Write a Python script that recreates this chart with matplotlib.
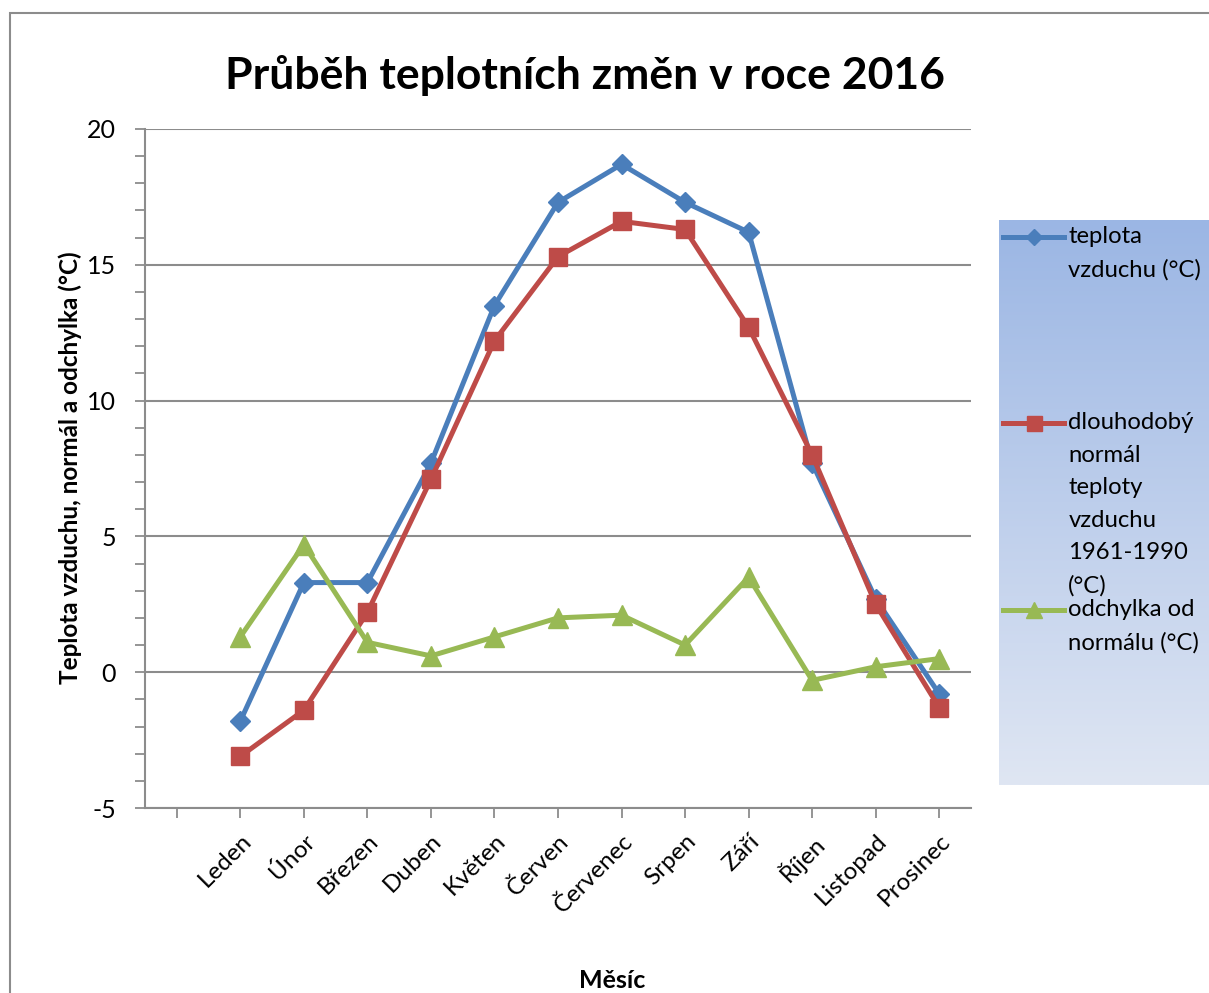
import numpy as np
import matplotlib
matplotlib.use("Agg")
import matplotlib.pyplot as plt
from matplotlib.patches import Rectangle
from matplotlib.lines import Line2D
from matplotlib.ticker import MultipleLocator

plt.rcParams['font.family'] = ['Lato', 'DejaVu Sans']
plt.rcParams['axes.unicode_minus'] = False

months = ["Leden", "Únor", "Březen", "Duben", "Květen", "Červen",
          "Červenec", "Srpen", "Září", "Říjen", "Listopad", "Prosinec"]
teplota = [-1.8, 3.3, 3.3, 7.7, 13.5, 17.3, 18.7, 17.3, 16.2, 7.7, 2.7, -0.8]
normal = [-3.1, -1.4, 2.2, 7.1, 12.2, 15.3, 16.6, 16.3, 12.7, 8.0, 2.5, -1.3]
odchylka = [1.3, 4.7, 1.1, 0.6, 1.3, 2.0, 2.1, 1.0, 3.5, -0.3, 0.2, 0.5]

series_names = ["teplota\nvzduchu (°C)",
                "dlouhodobý\nnormál\nteploty\nvzduchu\n1961-1990\n(°C)",
                "odchylka od\nnormálu (°C)"]
colors = ["#4A7EBB", "#BE4B48", "#98B954"]
markers = ["D", "s", "^"]
msizes = [10.5, 13.5, 14.5]

W, H = 1209, 993
fig = plt.figure(figsize=(W / 100, H / 100), dpi=100)

# chart border
fig.add_artist(Rectangle((10 / W, -0.1), 1.2, 1 - 13 / H + 0.1, transform=fig.transFigure,
                         fill=False, edgecolor="#8C8C8C", linewidth=1.5))

ax = fig.add_axes([145 / W, 1 - 808 / H, 826 / W, 679 / H])
x = np.arange(len(months))
for vals, c, m, ms in zip([teplota, normal, odchylka], colors, markers, msizes):
    ax.plot(x, vals, color=c, marker=m, markersize=ms, linewidth=3.6,
            markeredgecolor=c, clip_on=False, zorder=3)

ax.set_xlim(-1.5, 11.5)
ax.set_ylim(-5, 20)
ax.yaxis.set_major_locator(MultipleLocator(5))
ax.yaxis.set_minor_locator(MultipleLocator(1))
ax.set_xticks(np.arange(-1, 12))
ax.set_xticklabels([""] + months, rotation=45, ha="right", rotation_mode="anchor",
                   fontsize=17.5)
ax.tick_params(axis="x", length=7, width=1.3, color="#8C8C8C", pad=9)
ax.tick_params(axis="y", which="major", length=7, width=1.3, color="#8C8C8C",
               labelsize=18, pad=14)
ax.tick_params(axis="y", which="minor", length=7, width=1.3, color="#8C8C8C")
ax.grid(axis="y", which="major", color="#8C8C8C", linewidth=1.5)
ax.set_axisbelow(True)
for s in ["top", "right"]:
    ax.spines[s].set_visible(False)
for s in ["left", "bottom"]:
    ax.spines[s].set_color("#8C8C8C")
    ax.spines[s].set_linewidth(1.5)

fig.text(585 / W, 1 - 76 / H, "Průběh teplotních změn v roce 2016", ha="center", va="center",
         fontsize=32, fontweight="bold")
fig.text(70 / W, 1 - 468 / H, "Teplota vzduchu, normál a odchylka (°C)", rotation=90,
         ha="center", va="center", fontsize=17.5, fontweight="bold")
fig.text(612 / W, 1 - 980 / H, "Měsíc", ha="center", va="center", fontsize=18,
         fontweight="bold")

# legend with gradient background
lax = fig.add_axes([999 / W, 1 - 785 / H, 210 / W, 565 / H])
grad = np.linspace(0, 1, 256)[:, None]
top = np.array([0x9B, 0xB6, 0xE4]) / 255
bot = np.array([0xDF, 0xE6, 0xF3]) / 255
img = top[None, None, :] * (1 - grad[:, :, None]) + bot[None, None, :] * grad[:, :, None]
lax.imshow(img, aspect="auto", extent=[0, 1, 0, 1], origin="upper")
lax.set_xlim(0, 1)
lax.set_ylim(0, 1)
lax.axis("off")
ys = [237, 423, 610]
for name, c, m, ms, yp in zip(series_names, colors, markers, msizes, ys):
    yy = (785 - yp) / 565
    lax.add_line(Line2D([0.02, 0.31], [yy, yy], color=c, linewidth=3.6))
    lax.plot([0.165], [yy], marker=m, color=c, markersize=ms * 0.8, markeredgecolor=c)
    lax.text(0.33, yy + 11 / 565, name, ha="left", va="top", fontsize=17.2,
             linespacing=1.68, transform=lax.transAxes)

fig.savefig("out.png", dpi=100)
